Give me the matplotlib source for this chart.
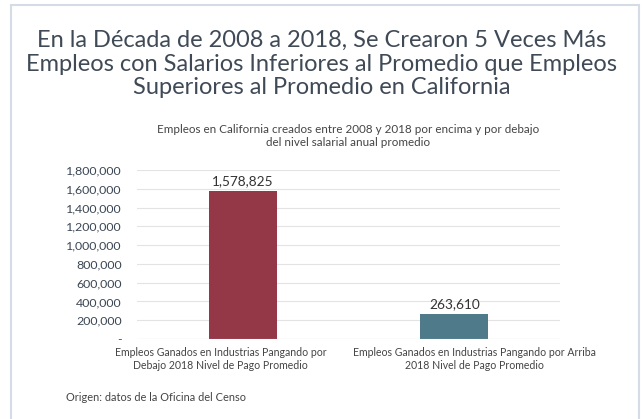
import matplotlib
matplotlib.use("Agg")
import matplotlib.pyplot as plt
from matplotlib.patches import Rectangle
from matplotlib.ticker import FuncFormatter
from matplotlib.transforms import ScaledTranslation

categories = ["Empleos Ganados en Industrias Pangando por\nDebajo 2018 Nivel de Pago Promedio",
              "Empleos Ganados en Industrias Pangando por Arriba\n2018 Nivel de Pago Promedio"]
values = [1578825, 263610]
colors = ["#943746", "#4f7a8a"]
yticks = [0, 200000, 400000, 600000, 800000, 1000000, 1200000, 1400000, 1600000, 1800000]

plt.rcParams['font.family'] = ['Lato', 'DejaVu Sans']

W, H = 643, 419
fig = plt.figure(figsize=(W/100, H/100), dpi=100)
fig.patch.set_facecolor("white")

# outer border
fig.add_artist(Rectangle((11/W, -0.05), (639-11)/W, 1.05 - 5/H, transform=fig.transFigure,
                         fill=False, edgecolor="#d5dce6", linewidth=1.5))

title_color = "#3f4a56"
for yy, line in zip([40, 64, 88], ["En la Década de 2008 a 2018, Se Crearon 5 Veces Más",
                                   "Empleos con Salarios Inferiores al Promedio que Empleos",
                                   "Superiores al Promedio en California"]):
    fig.text(0.5, 1 - yy/H, line, ha="center", va="center", fontsize=17,
             fontweight="normal", color=title_color)

fig.text(348/W, 1 - 129/H, "Empleos en California creados entre 2008 y 2018 por encima y por debajo",
         ha="center", va="center", fontsize=8.4, color="#444444")
fig.text(348/W, 1 - 143/H, "del nivel salarial anual promedio",
         ha="center", va="center", fontsize=8.4, color="#444444")

fig.text(66/W, 1 - 397/H, "Origen: datos de la Oficina del Censo", ha="left", va="center",
         fontsize=7.9, color="#444444")

ax_left, ax_right = 137, 560
ax_top, ax_bot = 170, 339
ax = fig.add_axes([ax_left/W, 1 - ax_bot/H, (ax_right-ax_left)/W, (ax_bot-ax_top)/H])
x = [0, 1]
bars = ax.bar(x, values, width=0.32, color=colors, zorder=3)
ax.set_xlim(-0.5, 1.5)
ax.set_ylim(0, 1800000)
ax.set_yticks(yticks)
ax.yaxis.set_major_formatter(FuncFormatter(lambda v, p: "-" if v == 0 else f"{int(v):,}"))
ax.set_xticks(x)
ax.set_xticklabels(categories, fontsize=7.6, color="#444444")
ax.tick_params(axis="y", labelsize=8.9, colors="#3b4754", length=0, pad=11)
ax.tick_params(axis="x", length=0, pad=6)
for lbl, dx in zip(ax.get_xticklabels(), [-22, 20]):
    lbl.set_transform(lbl.get_transform() + ScaledTranslation(dx/100, 0, fig.dpi_scale_trans))
ax.grid(axis="y", color="#e3e3e3", linewidth=0.8, zorder=0)
for s in ax.spines.values():
    s.set_visible(False)
ax.axhline(0, color="#d9d9d9", linewidth=0.8, zorder=4)
for xi, v in zip(x, values):
    ax.text(xi, v + 40000, f"{v:,}", ha="center", va="bottom", fontsize=9.8, color="#333333")

fig.savefig("out.png", dpi=100, facecolor="white")
